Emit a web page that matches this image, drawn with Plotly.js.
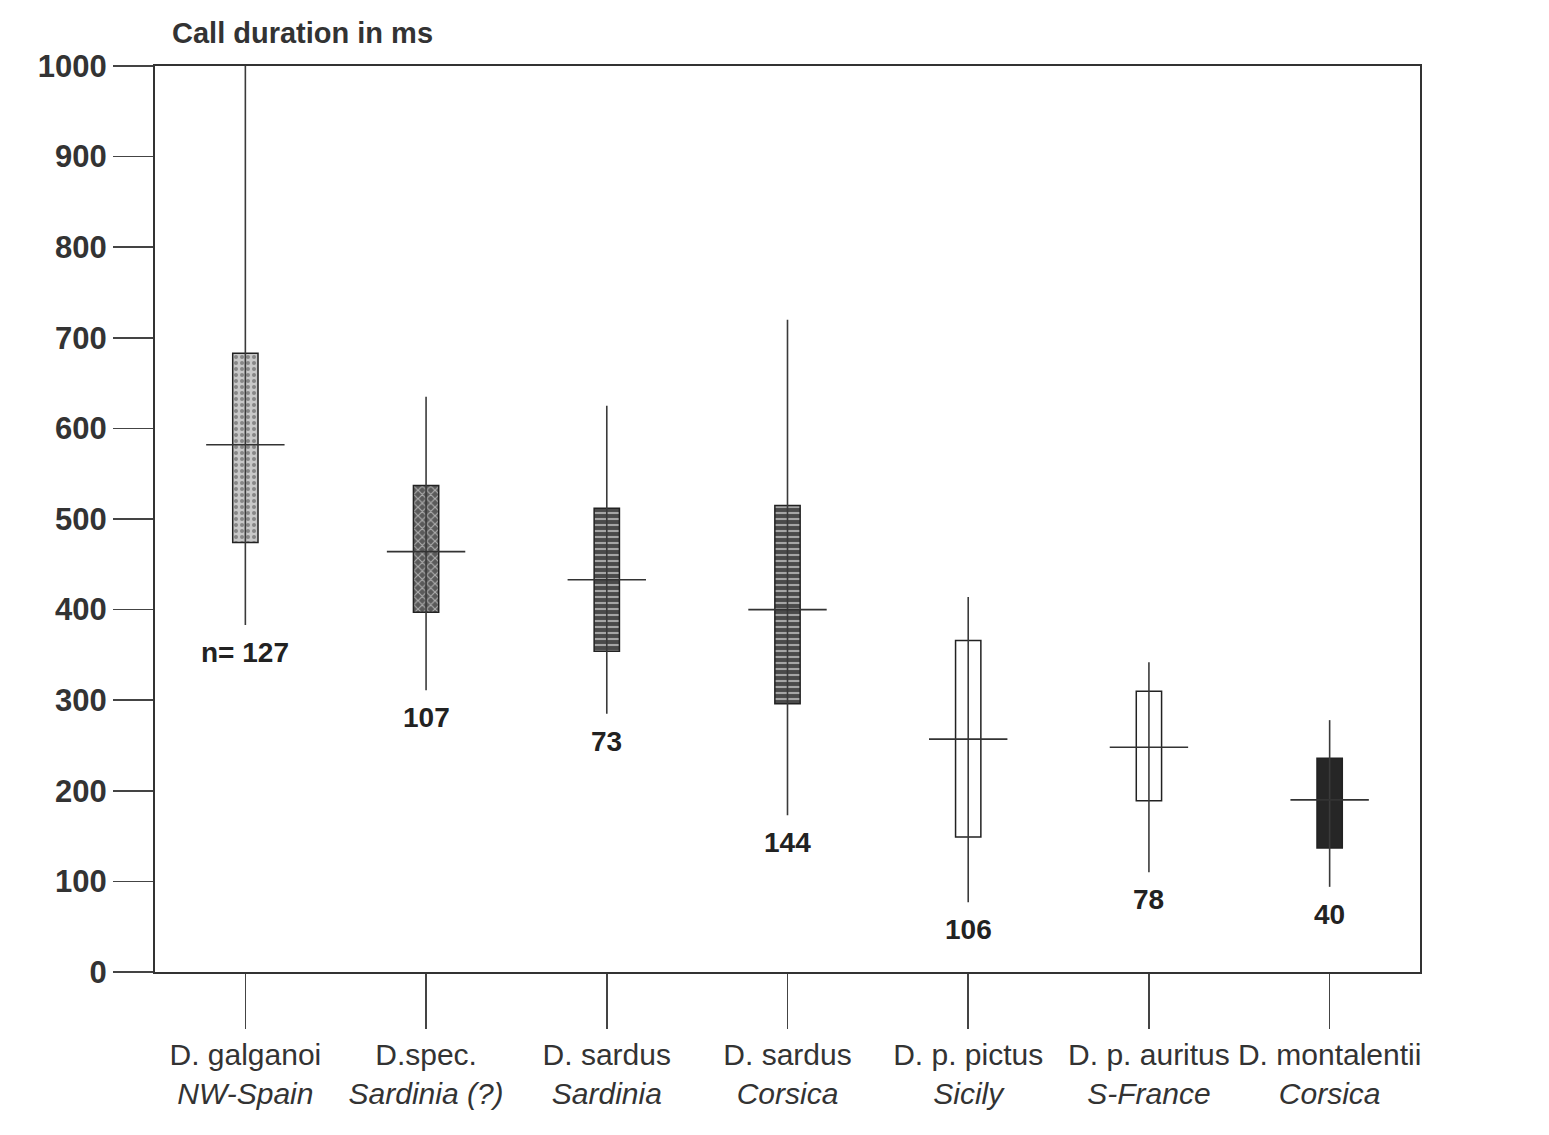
<!DOCTYPE html>
<html>
<head>
<meta charset="utf-8">
<script src="https://cdn.plot.ly/plotly-3.0.1.min.js"></script>
<style>html,body{margin:0;padding:0;background:#fff;}</style>
</head>
<body>
<div id="chart" style="width:1549px;height:1135px;"></div>
<script>
// ---- data ----
const species = ['D. galganoi', 'D.spec.', 'D. sardus', 'D. sardus', 'D. p. pictus', 'D. p. auritus', 'D. montalentii'];
const regions = ['NW-Spain', 'Sardinia (?)', 'Sardinia', 'Corsica', 'Sicily', 'S-France', 'Corsica'];
const maxV  = [1000, 635, 625, 720, 414, 342, 278];
const q3V   = [683, 537, 512, 515, 366, 310, 236];
const meanV = [582, 464, 433, 400, 257, 248, 190];
const q1V   = [474, 397, 354, 296, 149, 189, 137];
const minV  = [383, 311, 285, 173, 77, 110, 94];
const nV    = [127, 107, 73, 144, 106, 78, 40];
const yTicks = [0, 100, 200, 300, 400, 500, 600, 700, 800, 900, 1000];

// ---- styles ----
const boxColors   = ['#c8c8c8', '#5a5a5a', '#4a4a4a', '#4a4a4a', '#ffffff', '#ffffff', '#262626'];
const patShapes   = ['.', 'x', '-', '-', '', '', ''];
const patFg       = ['#444444', '#9a9a9a', '#bbbbbb', '#bbbbbb', '#000000', '#000000', '#000000'];

const cats = species.map((s, i) => s + '<br><i>' + regions[i] + '</i>');

const whiskers = {
  type: 'scatter', mode: 'markers', x: cats, y: meanV,
  marker: {size: 1, color: 'rgba(0,0,0,0)'},
  error_y: {
    type: 'data', symmetric: false,
    array: maxV.map((m, i) => m - meanV[i]),
    arrayminus: meanV.map((m, i) => m - minV[i]),
    width: 0, thickness: 1.6, color: '#3a3a3a'
  },
  hoverinfo: 'skip', showlegend: false
};

const boxes = {
  type: 'bar', x: cats, base: q1V, y: q3V.map((v, i) => v - q1V[i]),
  width: 0.14,
  marker: {
    color: boxColors,
    line: {color: '#222', width: 1.5},
    pattern: {shape: patShapes, fgcolor: patFg, size: 6, solidity: 0.35, fillmode: 'overlay'}
  },
  showlegend: false
};

const means = {
  type: 'scatter', mode: 'markers', x: cats, y: meanV,
  marker: {symbol: 'line-ew', size: 56, line: {color: '#333', width: 1.6}},
  showlegend: false
};

const annotations = nV.map((n, i) => ({
  x: cats[i], y: minV[i], xref: 'x', yref: 'y',
  yanchor: 'top', yshift: -10, showarrow: false,
  text: (i === 0 ? 'n= ' : '') + n,
  font: {family: 'Liberation Sans, Arial, sans-serif', size: 28, color: '#222', weight: 'bold'}
}));

const layout = {
  width: 1549, height: 1135,
  margin: {l: 155, r: 129, t: 66, b: 163},
  paper_bgcolor: '#ffffff', plot_bgcolor: '#ffffff',
  showlegend: false,
  bargap: 0,
  title: {
    text: 'Call duration in ms',
    x: 172 / 1549, xanchor: 'left', xref: 'container',
    y: 1 - 33 / 1135, yanchor: 'middle', yref: 'container',
    font: {family: 'Liberation Sans, Arial, sans-serif', size: 29, color: '#333', weight: 'bold'}
  },
  xaxis: {
    type: 'category', range: [-0.5, 6.5],
    showline: true, mirror: true, linecolor: '#333', linewidth: 2,
    ticks: 'outside', ticklen: 55, tickwidth: 1.6, tickcolor: '#444',
    showgrid: false, zeroline: false,
    tickfont: {family: 'Liberation Sans, Arial, sans-serif', size: 30, color: '#333'}
  },
  yaxis: {
    range: [0, 1000], tickvals: yTicks,
    showline: true, mirror: true, linecolor: '#333', linewidth: 2,
    ticks: 'outside', ticklen: 40, tickwidth: 1.6, tickcolor: '#444',
    showgrid: false, zeroline: false,
    tickfont: {family: 'Liberation Sans, Arial, sans-serif', size: 31, color: '#333', weight: 'bold'}
  },
  annotations: annotations
};

Plotly.newPlot('chart', [whiskers, boxes, means], layout, {displayModeBar: false, staticPlot: true});
</script>
</body>
</html>
